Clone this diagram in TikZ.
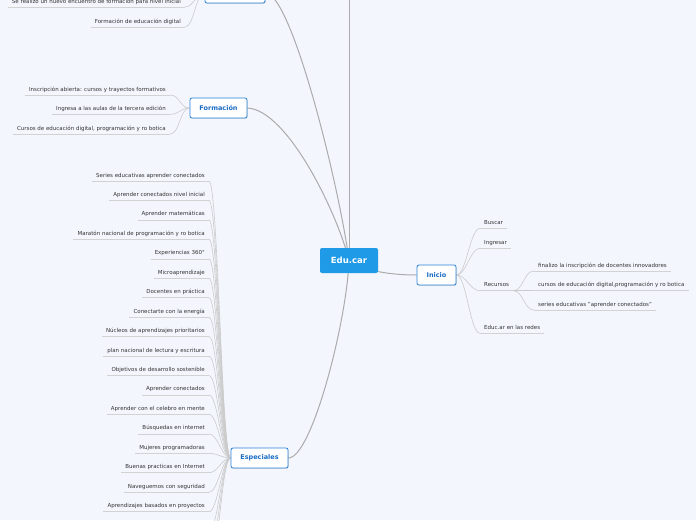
\documentclass[tikz,border=0pt]{standalone}
\usepackage{fontspec}
\setmainfont{DejaVu Sans}
\usetikzlibrary{backgrounds,shadows}
\definecolor{bgcol}{HTML}{F3F6FD}
\definecolor{leafcol}{HTML}{333333}
\definecolor{ulcol}{HTML}{D2D2D2}
\definecolor{conncol}{HTML}{CBCBCB}
\definecolor{maincol}{HTML}{ABABAB}
\definecolor{topicborder}{HTML}{2C84D8}
\definecolor{topictext}{HTML}{1A6CC4}
\definecolor{centralfill}{HTML}{1F9AE6}
\tikzset{
  leaf/.style={font=\fontsize{5.5}{6.5}\selectfont, text=leafcol, inner xsep=4pt, inner ysep=2.6pt, text height=4pt, text depth=1.2pt},
  lleaf/.style={leaf, anchor=south east},
  rleaf/.style={leaf, anchor=south west},
  uline/.style={draw=ulcol, line width=0.6pt},
  conn/.style={draw=conncol, line width=0.6pt},
  mainconn/.style={draw=maincol, line width=1pt},
  topic/.style={draw=topicborder, line width=0.8pt, fill=white, rounded corners=2pt, text=topictext,
    font=\bfseries\fontsize{6.5}{7}\selectfont, minimum height=20pt, inner sep=0pt,
    drop shadow={shadow xshift=0.5pt, shadow yshift=-0.7pt, opacity=0.18, fill=black}},
  central/.style={fill=centralfill, rounded corners=2pt, text=white,
    font=\bfseries\fontsize{8.5}{9}\selectfont, minimum width=58pt, minimum height=25pt, inner sep=0pt}
}
\begin{document}
\begin{tikzpicture}[x=1pt,y=-1pt]
\useasboundingbox (0,0) rectangle (696,520);
% central and topics
\node[central] (educar) at (349,260.5) {Edu.car};
\node[topic, minimum width=39pt] (inicio) at (436.5,275) {Inicio};
\node[topic, minimum width=57pt] (formacion) at (218.5,108) {Formación};
\node[topic, minimum width=57pt] (especiales) at (259.5,458) {Especiales};
\node[topic, minimum width=60pt] (topbox) at (235,-7) {};
\coordinate (upper) at (349,-30);
% top box leaves
\node[lleaf] (t1) at (185,7) {Se realizo un nuevo encuentro de formación para nivel inicial};
\node[lleaf] (t2) at (185,27) {Formación de educación digital};
% formacion leaves
\node[lleaf] (f1) at (170,95) {Inscripción abierta: cursos y trayectos formativos};
\node[lleaf] (f2) at (170,114.3) {Ingresa a las aulas de la tercera edición};
\node[lleaf] (f3) at (170,134) {Cursos de educación digital, programación y ro botica};
% inicio leaves
\node[rleaf] (i1) at (480,228.3) {Buscar};
\node[rleaf] (i2) at (480,248.3) {Ingresar};
\node[rleaf] (i3) at (480,290.7) {Recursos};
\node[rleaf] (i4) at (480,333.3) {Educ.ar en las redes};
\node[rleaf] (r1) at (534,271) {finalizo la inscripción de docentes innovadores};
\node[rleaf] (r2) at (534,290.7) {cursos de educación digital,programación y ro botica};
\node[rleaf] (r3) at (534,310) {series educativas "aprender conectados"};
% especiales leaves
\foreach \t [count=\i] in {Series educativas aprender conectados, Aprender conectados nivel inicial,
  Aprender matemáticas, Maratón nacional de programación y ro botica, Experiencias 360°,
  Microaprendizaje, Docentes en práctica, Conectarte con la energía,
  Núcleos de aprendizajes prioritarios, plan nacional de lectura y escritura,
  Objetivos de desarrollo sostenible, Aprender conectados, Aprender con el celebro en mente,
  Búsquedas en internet, Mujeres programadoras, Buenas practicas en Internet,
  Naveguemos con seguridad, Aprendizajes basados en proyectos}
  {\node[lleaf] (e\i) at (209,{181+19.45*(\i-1)}) {\t};}
\coordinate (x1) at (209,531);
\coordinate (x2) at (209,550.5);
\coordinate (x3) at (209,570);
\begin{scope}[on background layer]
  \fill[bgcol] (0,0) rectangle (696,520);
  % main connectors
  \draw[mainconn] (educar.center) .. controls (365,272) and (395,275) .. (inicio.west);
  \draw[mainconn] (formacion.east) .. controls (288,110) and (338,215) .. (educar.center);
  \draw[mainconn] (topbox.east) .. controls (292,-7) and (340,190) .. (educar.center);
  \draw[mainconn] (upper) -- (educar.center);
  \draw[mainconn] (especiales.east) .. controls (312,458) and (347,320) .. (educar.center);
  % underlines and leaf connectors (left side)
  \foreach \n in {t1,t2} {
    \draw[uline] (\n.south west) -- (\n.south east);
    \draw[conn] (\n.south east) .. controls +(9,0) and +(-9,0) .. (topbox.west);
  }
  \foreach \n in {f1,f2,f3} {
    \draw[uline] (\n.south west) -- (\n.south east);
    \draw[conn] (\n.south east) .. controls +(10,0) and +(-10,0) .. (formacion.west);
  }
  \foreach \i in {1,...,18} {
    \draw[uline] (e\i.south west) -- (e\i.south east);
    \draw[conn] (e\i.south east) .. controls +(9,0) and +(-9,0) .. (especiales.west);
  }
  \foreach \n in {x1,x2,x3} {
    \draw[conn] (\n) .. controls +(9,0) and +(-9,0) .. (especiales.west);
  }
  % right side
  \foreach \n in {i1,i2,i3,i4} {
    \draw[uline] (\n.south west) -- (\n.south east);
    \draw[conn] (inicio.east) .. controls +(10,0) and +(-10,0) .. (\n.south west);
  }
  \foreach \n in {r1,r2,r3} {
    \draw[uline] (\n.south west) -- (\n.south east);
    \draw[conn] (i3.south east) .. controls +(10,0) and +(-10,0) .. (\n.south west);
  }
\end{scope}
\end{tikzpicture}
\end{document}
